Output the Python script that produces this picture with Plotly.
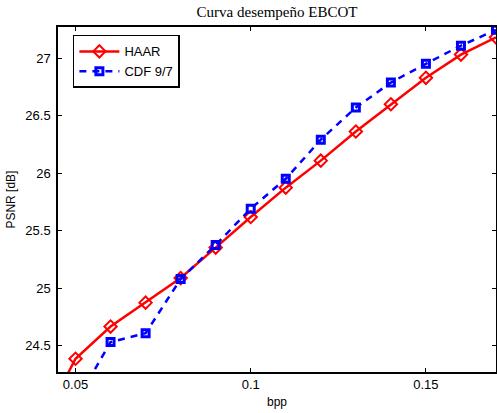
import plotly.graph_objects as go

bpp_haar = [0.04, 0.05, 0.06, 0.07, 0.08, 0.09, 0.10, 0.11, 0.12, 0.13, 0.14, 0.15, 0.16, 0.17]
psnr_haar = [23.80, 24.385, 24.665, 24.873, 25.087, 25.352, 25.618, 25.873, 26.108, 26.361, 26.598, 26.828, 27.03, 27.18]
bpp_cdf = [0.05, 0.06, 0.07, 0.08, 0.09, 0.10, 0.11, 0.12, 0.13, 0.14, 0.15, 0.16, 0.17]
psnr_cdf = [24.00, 24.53, 24.607, 25.078, 25.375, 25.69, 25.95, 26.29, 26.57, 26.787, 26.95, 27.108, 27.245]

x_ticks = [0.05, 0.1, 0.15]
x_tick_text = ["0.05", "0.1", "0.15"]
y_ticks = [24.5, 25, 25.5, 26, 26.5, 27]
y_tick_text = ["24.5", "25", "25.5", "26", "26.5", "27"]

SANS = "Liberation Sans, Arial, sans-serif"

fig = go.Figure()
fig.add_trace(go.Scatter(
    x=bpp_haar, y=psnr_haar, name="HAAR", mode="lines+markers", legendgroup="a",
    line=dict(color="#ff0000", width=2.5),
    marker=dict(symbol="diamond-open", size=9.5, color="#ff0000", line=dict(width=2)),
))
fig.add_trace(go.Scatter(
    x=bpp_cdf, y=psnr_cdf, name="CDF 9/7", mode="lines+markers", legendgroup="b",
    line=dict(color="#0000ff", width=2.5, dash="7px,6px"),
    marker=dict(symbol="square-open", size=7, color="#0000ff", line=dict(width=3)),
))

axis_common = dict(
    showline=True, linecolor="black", linewidth=1.5, mirror="ticks",
    ticks="inside", ticklen=4, tickwidth=1, tickcolor="black",
    showgrid=False, zeroline=False, automargin=False,
    tickfont=dict(family=SANS, size=13, color="black"),
)

fig.update_layout(
    width=497, height=413,
    margin=dict(l=58, r=1, t=27, b=41),
    paper_bgcolor="white", plot_bgcolor="white",
    title=dict(text="Curva desempeño EBCOT", x=0.5, xref="paper", xanchor="center",
               y=1 - 12 / 413, yref="container", yanchor="middle",
               font=dict(family="Liberation Serif, DejaVu Serif, serif", size=15, color="black")),
    xaxis=dict(range=[0.045, 0.17], tickvals=x_ticks, ticktext=x_tick_text, **axis_common),
    yaxis=dict(range=[24.27, 27.27], tickvals=y_ticks, ticktext=y_tick_text,
               ticklabelstandoff=3, **axis_common),
    legend=dict(x=0.034, y=0.977, xanchor="left", yanchor="top",
                bgcolor="white", bordercolor="black", borderwidth=1.5,
                font=dict(family=SANS, size=13, color="black"),
                itemwidth=40, tracegroupgap=0),
    showlegend=True,
    annotations=[
        dict(text="bpp", xref="paper", yref="paper", x=0.5, y=-(402 - 372) / 345,
             xanchor="center", yanchor="middle", showarrow=False,
             font=dict(family=SANS, size=12, color="black")),
        dict(text="PSNR [dB]", xref="paper", yref="paper", x=-(58 - 10) / 439, y=0.5,
             xanchor="center", yanchor="middle", showarrow=False, textangle=-90,
             font=dict(family=SANS, size=12, color="black")),
    ],
)

fig.write_html("out.html",
               config={"displayModeBar": False},
               post_script="document.body.style.margin='0';document.body.style.overflow='hidden';")
